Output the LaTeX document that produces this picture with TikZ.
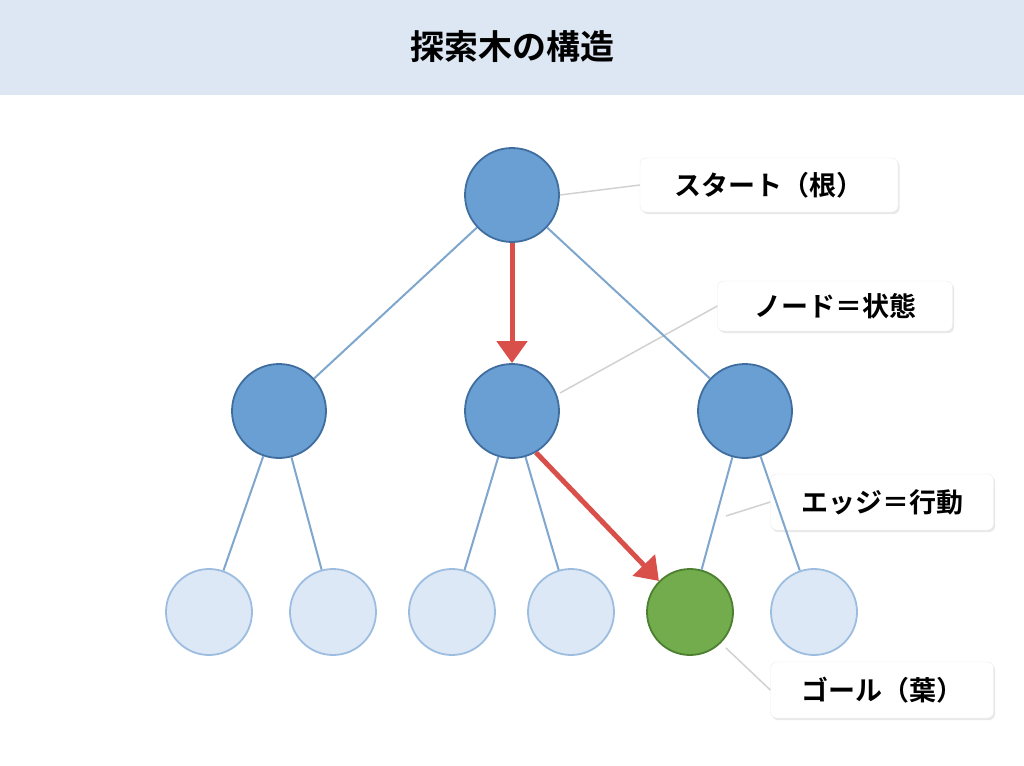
\documentclass[tikz,border=0pt]{standalone}
\usepackage{fontspec}
\setmainfont{Noto Sans CJK JP}[BoldFont={* Bold}]
\usetikzlibrary{arrows.meta,shadows}
\definecolor{band}{HTML}{DCE7F3}
\definecolor{nodeblue}{HTML}{6A9FD4}
\definecolor{nodeedge}{HTML}{3F6E9E}
\definecolor{leaffill}{HTML}{DCE8F5}
\definecolor{leafedge}{HTML}{9DBDE0}
\definecolor{goalfill}{HTML}{72AC4C}
\definecolor{goaledge}{HTML}{4D7F30}
\definecolor{edgeblue}{HTML}{7FA6CD}
\definecolor{redar}{HTML}{D9504A}
\begin{document}
\begin{tikzpicture}[x=1pt,y=-1pt,
  inner/.style={circle,minimum size=94pt,inner sep=0,fill=nodeblue,draw=nodeedge,line width=1.8pt},
  leaf/.style={circle,minimum size=86pt,inner sep=0,fill=leaffill,draw=leafedge,line width=1.8pt},
  goal/.style={circle,minimum size=86pt,inner sep=0,fill=goalfill,draw=goaledge,line width=1.8pt},
  tedge/.style={draw=edgeblue,line width=2pt},
  red/.style={draw=redar,line width=5pt,-{Triangle[length=22pt,width=30pt]}},
  lab/.style={rectangle,rounded corners=6pt,fill=white,draw=black!8,drop shadow={opacity=0.18,shadow xshift=1.5pt,shadow yshift=-2pt},font=\bfseries\fontsize{27}{30}\selectfont,inner sep=0},
  lead/.style={draw=black!18,line width=1.5pt}]
\useasboundingbox (0,0) rectangle (1024,765);
\fill[band] (0,0) rectangle (1024,95);
\node (title) at (512,47) {\bfseries\fontsize{34}{40}\selectfont 探索木の構造};
\node[inner] (r) at (512,195) {};
\node[inner] (a) at (279,411) {};
\node[inner] (b) at (512,411) {};
\node[inner] (c) at (745,411) {};
\node[leaf] (l1) at (209,612) {};
\node[leaf] (l2) at (333,612) {};
\node[leaf] (l3) at (452,612) {};
\node[leaf] (l4) at (571,612) {};
\node[goal] (g) at (690,612) {};
\node[leaf] (l6) at (814,612) {};
\begin{scope}[on background layer/.style={}]
\end{scope}
\node[lab,minimum width=258pt,minimum height=54pt] (s) at (769,185) {スタート（根）};
\node[lab,minimum width=235pt,minimum height=50pt] (n) at (835,306) {ノード＝状態};
\node[lab,minimum width=223pt,minimum height=56pt] (e) at (882,502) {エッジ＝行動};
\node[lab,minimum width=223pt,minimum height=56pt] (gl) at (882,690) {ゴール（葉）};
\coordinate (ep) at (726,516);
\coordinate (np) at (560,393);
\coordinate (gp) at (726,648);
\draw[lead] (r.east) -- (s.west);
\draw[lead] (np) -- (n.west);
\draw[lead] (ep) -- (e.west);
\draw[lead] (gp) -- (gl.west);
\draw[tedge] (r) -- (a); \draw[tedge] (r) -- (c);
\draw[tedge] (a) -- (l1); \draw[tedge] (a) -- (l2);
\draw[tedge] (b) -- (l3); \draw[tedge] (b) -- (l4);
\draw[tedge] (c) -- (g); \draw[tedge] (c) -- (l6);
\draw[red] (r.south) -- (b.north);
\draw[red] (b.-60) -- (g.135);
\end{tikzpicture}
\end{document}
